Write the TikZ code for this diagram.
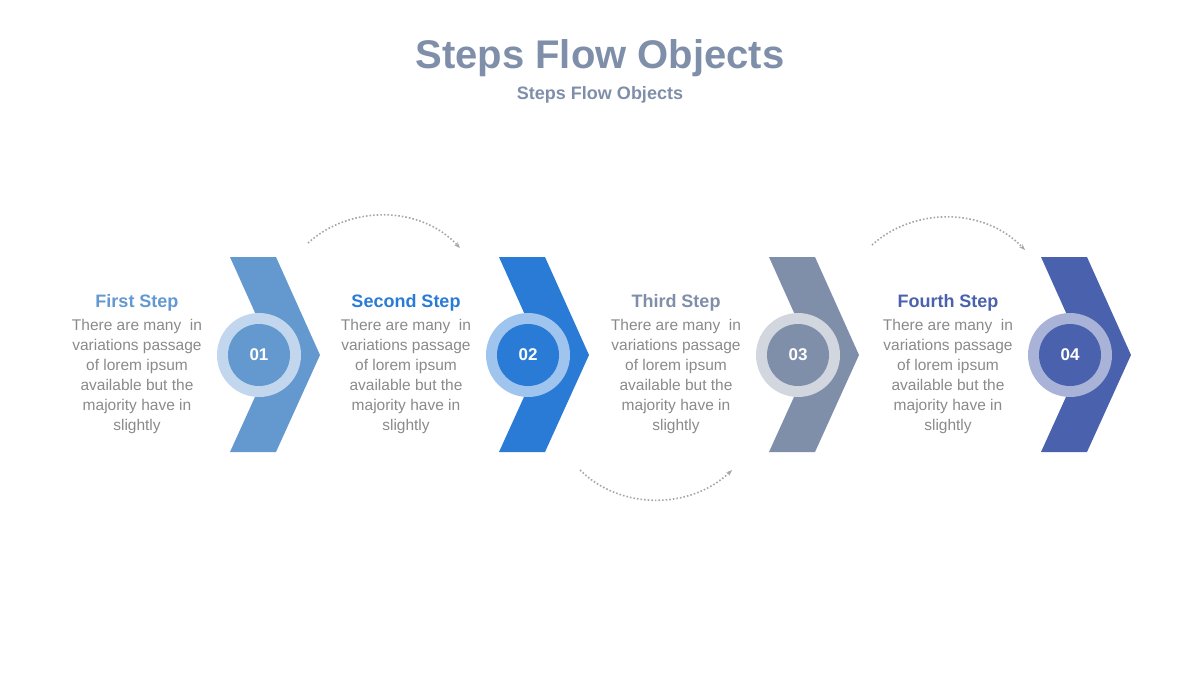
\documentclass[tikz,border=0pt]{standalone}
\usepackage{fontspec}
\setmainfont{Liberation Sans}
\usetikzlibrary{arrows.meta}
\definecolor{cA}{HTML}{6399CF}\definecolor{rA}{HTML}{C2D7EE}
\definecolor{cB}{HTML}{2A7BD6}\definecolor{rB}{HTML}{9FC4EE}
\definecolor{cC}{HTML}{7F8FA9}\definecolor{rC}{HTML}{D2D6DE}
\definecolor{cD}{HTML}{4A62AD}\definecolor{rD}{HTML}{A9B3D8}
\definecolor{tx}{HTML}{8A8A8A}
\begin{document}
\begin{tikzpicture}[x=1pt,y=-1pt,
  body/.style={text=tx,font=\fontsize{15.5}{20}\selectfont,align=center,anchor=north},
  head/.style={font=\fontsize{18}{20}\selectfont\bfseries,anchor=center},
  num/.style={circle,minimum size=62pt,inner sep=0,text=white,font=\fontsize{17}{20}\selectfont\bfseries},
  flow/.style={dotted,line width=1.6pt,draw=gray!70,-{Stealth[length=6pt]}}]
\useasboundingbox (0,0) rectangle (1200,675);
\node[text=cC,font=\fontsize{40}{44}\selectfont\bfseries] (t) at (600,58) {Steps Flow Objects};
\node[text=cC,font=\fontsize{18}{20}\selectfont\bfseries] (s) at (600,95) {Steps Flow Objects};
\foreach \x/\c/\r/\n/\h/\i in {230/cA/rA/01/First Step/1,499/cB/rB/02/Second Step/2,769/cC/rC/03/Third Step/3,1041/cD/rD/04/Fourth Step/4}{
  \fill[\c] (\x,257) -- (\x+46,257) -- (\x+90,355) -- (\x+46,452) -- (\x,452) -- (\x+44,355) -- cycle;
  \fill[\r] (\x+29,355) circle (42);
  \node[num,fill=\c] (n\i) at (\x+29,355) {\n};
  \node[head,text=\c] (h\i) at (\x-93,303) {\h};
  \node[body] (b\i) at (\x-93,316) {There are many\ \ in\\variations passage\\of lorem ipsum\\available but the\\majority have in\\slightly};
}
\coordinate (a1) at (308,243); \coordinate (a2) at (460,248);
\coordinate (c1) at (580,470); \coordinate (c2) at (732,470);
\coordinate (d1) at (872,245); \coordinate (d2) at (1025,250);
\draw[flow] (a1) .. controls (350,205) and (420,205) .. (a2);
\draw[flow] (c1) .. controls (620,510) and (690,510) .. (c2);
\draw[flow] (d1) .. controls (914,207) and (984,207) .. (d2);
\end{tikzpicture}
\end{document}
